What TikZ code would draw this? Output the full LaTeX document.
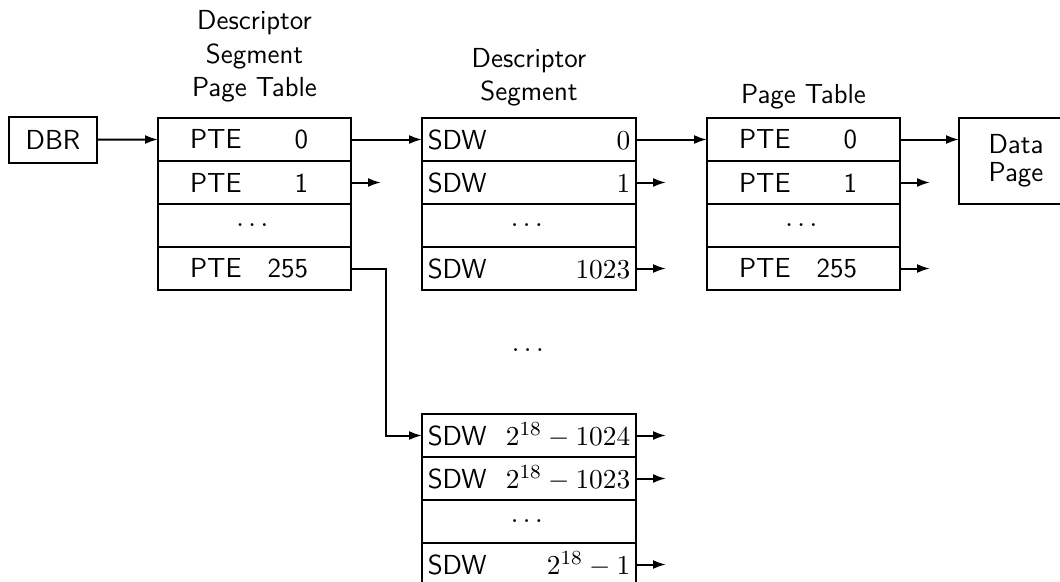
\documentclass[tikz,border=0pt]{standalone}
\usepackage{amsmath,amssymb}
\usepackage{tikz}
\usetikzlibrary{arrows.meta,positioning}

\newcommand{\pterow}[1]{\makebox[51.6pt]{PTE\hfill #1\hspace{4.4pt}}}
\newcommand{\sdwrow}[1]{\makebox[81pt]{SDW\hfill #1}}

\begin{document}
\begin{tikzpicture}[x=0.4pt,y=-0.4pt,>={Latex[length=5.2pt,width=3.6pt]},thick,font=\sffamily\fontsize{11}{13.4}\selectfont]
\tikzstyle{cell}=[draw, outer sep=0pt, inner sep=2pt, minimum height=17.2pt, anchor=north]
\tikzstyle{ptecell}=[cell, minimum width=77.2pt]
\tikzstyle{sdwcell}=[cell, minimum width=85.6pt]
\tikzstyle{heading}=[align=center, inner sep=0pt, anchor=south]
\useasboundingbox (0,0) rectangle (1060,581);
\node[draw, outer sep=0pt, minimum width=35.2pt, minimum height=18.4pt] (dbr) at (53,139.5) {DBR};
% descriptor segment page table
\node[ptecell] (dspt0) at (254.5,118) {\pterow{0}};
\node[ptecell, below=0pt of dspt0] (dspt1) {\pterow{1}};
\node[ptecell, below=0pt of dspt1] (dspt2) {$\dots$};
\node[ptecell, below=0pt of dspt2] (dspt3) {\pterow{255}};
\node[heading, above=5.9pt of dspt0] (dsptname) {Descriptor\\Segment\\Page Table};
% descriptor segment
\node[sdwcell] (ds0) at (529,118) {\sdwrow{$0$}};
\node[sdwcell, below=0pt of ds0] (ds1) {\sdwrow{$1$}};
\node[sdwcell, below=0pt of ds1] (ds2) {$\dots$};
\node[sdwcell, below=0pt of ds2] (ds3) {\sdwrow{$1023$}};
\node[heading, above=4.3pt of ds0] (dsname) {Descriptor\\Segment};
\node (dsgap) at (530,350) {$\dots$};
\node[sdwcell] (bot0) at (529,414) {\sdwrow{$2^{18}-1024$}};
\node[sdwcell, below=0pt of bot0] (bot1) {\sdwrow{$2^{18}-1023$}};
\node[sdwcell, below=0pt of bot1] (bot2) {$\dots$};
\node[sdwcell, below=0pt of bot2] (bot3) {\sdwrow{$2^{18}-1$}};
% page table
\node[ptecell] (pt0) at (803.5,118) {\pterow{0}};
\node[ptecell, below=0pt of pt0] (pt1) {\pterow{1}};
\node[ptecell, below=0pt of pt1] (pt2) {$\dots$};
\node[ptecell, below=0pt of pt2] (pt3) {\pterow{255}};
\node[heading, above=3.1pt of pt0] (ptname) {Page Table};
\node[draw, outer sep=0pt, anchor=north west, minimum width=45.6pt, minimum height=34.4pt, align=center, font=\sffamily\fontsize{11}{11}\selectfont] (data) at (959,118) {Data\\Page};
\draw[->] (dbr.east) -- (dspt0.west);
\draw[->] (dspt0.east) -- (ds0.west);
\draw[->] (dspt3.east) -- ++(14pt,0) |- (bot0.west);
\draw[->] (ds0.east) -- (pt0.west);
\draw[->] (pt0.east) -- (pt0.east -| data.west);
\foreach \r in {dspt1,ds1,ds3,pt1,pt3,bot0,bot1,bot3} {
  \coordinate[right=12pt of \r.east] (\r-end);
  \draw[->] (\r.east) -- (\r-end);
}
\end{tikzpicture}
\end{document}
